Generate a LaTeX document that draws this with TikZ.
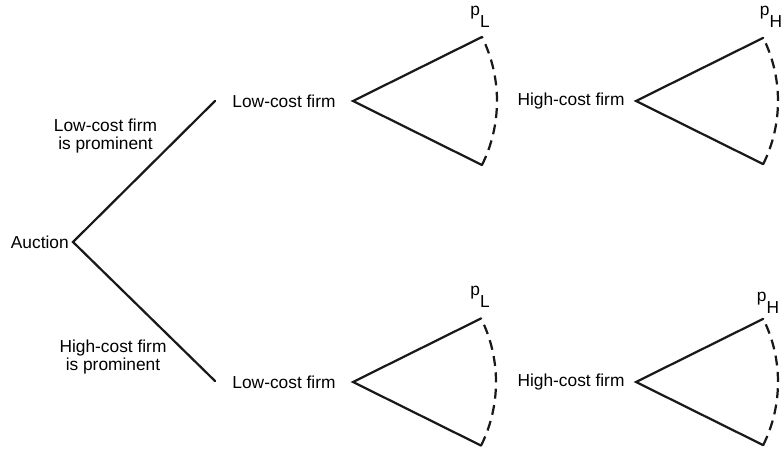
\documentclass[tikz,border=0pt]{standalone}
\usepackage{fontspec}
\setmainfont{Liberation Sans}
\usepackage{tikz}
\usetikzlibrary{positioning}
\tikzset{
  treeline/.style={line width=1.9pt, line cap=round, line join=miter, color=black!90},
  fanarc/.style={line width=1.9pt, dash pattern=on 8.5pt off 5.5pt, color=black!90},
  firmlabel/.style={font=\fontsize{14.8pt}{15.5pt}\selectfont, inner sep=0pt},
  branchlabel/.style={font=\fontsize{14.8pt}{15.5pt}\selectfont, inner sep=0pt,
    align=center},
  pricelabel/.style={font=\fontsize{14.8pt}{15.5pt}\selectfont, inner sep=0pt},
}
\newcommand{\pricesub}[1]{p\raisebox{-10pt}{#1}}

\begin{document}
\begin{tikzpicture}[x=0.03cm, y=0.03cm]
    \useasboundingbox (0,0) rectangle (784,453);

    % root of the tree
    \coordinate (root) at (73,211);
    \node[firmlabel, anchor=east] (auction) at (69,211){Auction};

    \coordinate (lowprom)  at (215,352);
    \coordinate (highprom) at (215,72);
    \draw[treeline] (lowprom) -- (root) -- (highprom);

    \node[branchlabel] (lplab) at (105.5,317){Low-cost firm\\is prominent};
    \node[branchlabel] (hplab) at (113,96){High-cost firm\\is prominent};

    % firm labels
    \node[firmlabel] (lowA)  at (284,352){Low-cost firm};
    \node[firmlabel] (highA) at (571,352){High-cost firm};
    \node[firmlabel] (lowB)  at (284,71){Low-cost firm};
    \node[firmlabel] (highB) at (571,71){High-cost firm};

    % fan vertices
    \coordinate (vLA) at (353,352);
    \coordinate (vHA) at (636,352);
    \coordinate (vLB) at (353,71);
    \coordinate (vHB) at (636,71);

    \path (vLA) ++(26.4:144) coordinate (LAup) (vLA) ++(-26.4:144) coordinate (LAdn);
    \path (vHA) ++(26.4:142) coordinate (HAup) (vHA) ++(-26.4:142) coordinate (HAdn);
    \path (vLB) ++(26.4:143) coordinate (LBup) (vLB) ++(-26.4:143) coordinate (LBdn);
    \path (vHB) ++(26.4:142) coordinate (HBup) (vHB) ++(-26.4:142) coordinate (HBdn);

    \draw[treeline] (LAup) -- (vLA) -- (LAdn);
    \draw[treeline] (HAup) -- (vHA) -- (HAdn);
    \draw[treeline] (LBup) -- (vLB) -- (LBdn);
    \draw[treeline] (HBup) -- (vHB) -- (HBdn);

    \draw[fanarc] (LAdn) arc[start angle=-26.4, end angle=26.4, radius=144];
    \draw[fanarc] (HAdn) arc[start angle=-26.4, end angle=26.4, radius=142];
    \draw[fanarc] (LBdn) arc[start angle=-26.4, end angle=26.4, radius=143];
    \draw[fanarc] (HBdn) arc[start angle=-26.4, end angle=26.4, radius=142];

    % prices
    \node[pricelabel] (pLA) at (480,436){\pricesub{L}};
    \node[pricelabel] (pHA) at (771,436){\pricesub{H}};
    \node[pricelabel] (pLB) at (480,156){\pricesub{L}};
    \node[pricelabel] (pHB) at (768,150){\pricesub{H}};
\end{tikzpicture}
\end{document}
